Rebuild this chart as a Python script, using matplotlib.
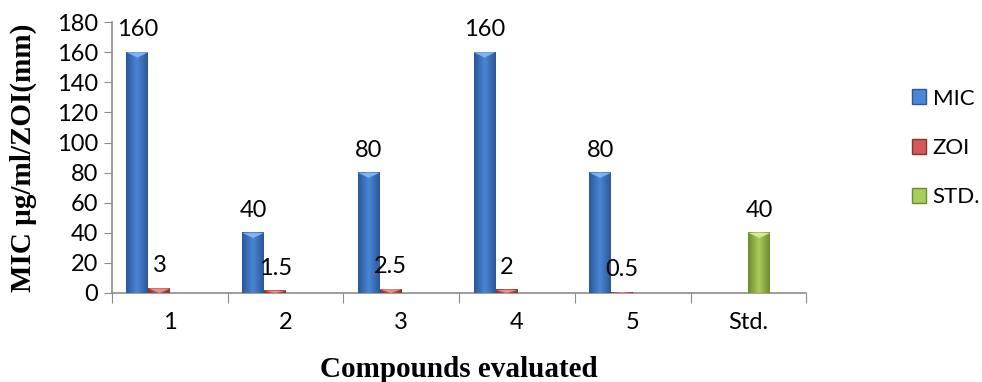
import numpy as np
import matplotlib
matplotlib.use("Agg")
import matplotlib.pyplot as plt
from matplotlib.patches import Polygon, Patch
from matplotlib.colors import LinearSegmentedColormap

categories = ['1', '2', '3', '4', '5', 'Std.']
mic = [160, 40, 80, 160, 80, None]
zoi = [3, 1.5, 2.5, 2, 0.5, None]
std = [None, None, None, None, None, 40]

mic_labels = ['160', '40', '80', '160', '80', None]
zoi_labels = ['3', '1.5', '2.5', '2', '0.5', None]
std_labels = [None, None, None, None, None, '40']

series = [
    ('MIC', mic, mic_labels, ['#2b5797', '#4a86d6', '#2b5797'], '#7fb2f0', -0.28),
    ('ZOI', zoi, zoi_labels, ['#8e2f2c', '#d05a57', '#8e2f2c'], '#ec8c89', -0.09),
    ('STD.', std, std_labels, ['#6f8c2a', '#a9cc5c', '#6f8c2a'], '#d2ea98', 0.095),
]
bar_w = 0.19

tick_font = 'Lato'
title_font = 'Liberation Serif'

fig = plt.figure(figsize=(9.82, 3.82), dpi=100)
ax = fig.add_axes([0.114, 0.233, 0.707, 0.709])


def shaded_bar(ax, x0, w, h, colors, light):
    # horizontal gradient inside the bar, plus a bevel triangle on top
    cmap = LinearSegmentedColormap.from_list('b', colors)
    grad = np.linspace(0, 1, 64).reshape(1, -1)
    ax.imshow(grad, cmap=cmap, extent=[x0, x0 + w, 0, h], aspect='auto',
              origin='lower', zorder=3, interpolation='bicubic')
    tri_h = min(3.5, h)
    ax.add_patch(Polygon([[x0, h], [x0 + w, h], [x0 + w / 2, h - tri_h]],
                         closed=True, facecolor=light, edgecolor='none', zorder=4))


for name, vals, labels, colors, light, off in series:
    for i, (v, lab) in enumerate(zip(vals, labels)):
        if v is None:
            continue
        x0 = i + 0.5 + off - bar_w / 2
        shaded_bar(ax, x0, bar_w, v, colors, light)
        ax.text(x0 + bar_w / 2, v + 8, lab, ha='center', va='bottom',
                fontsize=17, family=tick_font, color='black', zorder=5)

ax.set_xlim(0, 6)
ax.set_ylim(0, 180)
ax.set_yticks(np.arange(0, 181, 20))
ax.set_xticks(np.arange(0, 7))
ax.set_xticklabels([])
ax.set_xticks(np.arange(6) + 0.5, minor=True)
ax.set_xticklabels(categories, minor=True)
ax.tick_params(axis='x', which='minor', length=0, pad=14, labelsize=17)
ax.tick_params(axis='x', which='major', length=7, color='#8c8c8c')
ax.tick_params(axis='y', length=6, color='#8c8c8c', labelsize=17, pad=4)
for lab in ax.get_xticklabels(minor=True) + ax.get_yticklabels():
    lab.set_family(tick_font)

for s in ['top', 'right']:
    ax.spines[s].set_visible(False)
for s in ['left', 'bottom']:
    ax.spines[s].set_color('#8c8c8c')
    ax.spines[s].set_linewidth(1.2)

ax.set_ylabel('MIC µg/ml/ZOI(mm)', family=title_font, fontweight='bold',
              fontsize=21, labelpad=14)
ax.set_xlabel('Compounds evaluated', family=title_font, fontweight='bold',
              fontsize=21, labelpad=16)

handles = [Patch(facecolor=s[3][1], edgecolor=s[3][0]) for s in series]
fig.legend(handles, [s[0] for s in series], loc='center left',
           bbox_to_anchor=(0.917, 0.6126), frameon=False, borderpad=0,
           prop={'family': tick_font, 'size': 16}, handlelength=0.65,
           handleheight=0.65, handletextpad=0.3, labelspacing=1.32)

fig.savefig('out.png', dpi=100)
